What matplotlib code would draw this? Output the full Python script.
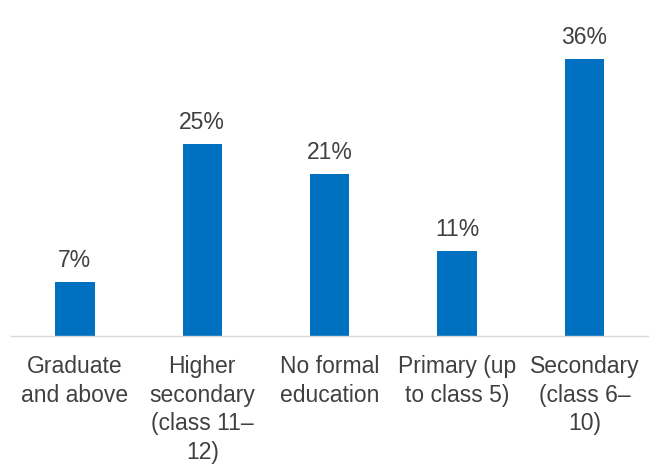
import matplotlib
matplotlib.use("Agg")
import matplotlib.pyplot as plt

# Datos del gráfico
categorias = ["Graduate\nand above", "Higher\nsecondary\n(class 11–\n12)", "No formal\neducation",
              "Primary (up\nto class 5)", "Secondary\n(class 6–\n10)"]
valores = [7, 25, 21, 11, 36]
etiquetas = ["7%", "25%", "21%", "11%", "36%"]

plt.rcParams['font.family'] = ['Liberation Sans', 'DejaVu Sans']

fig = plt.figure(figsize=(6.6, 4.66), dpi=100)
ax = fig.add_axes([0.017, 0.279, 0.965, 0.68])

x = range(len(categorias))
barras = ax.bar(x, valores, width=0.31, color="#0070C0")

# Etiquetas de porcentaje encima de cada barra
for xi, v, txt in zip(x, valores, etiquetas):
    ax.text(xi, v + 1.3, txt, ha="center", va="bottom", fontsize=16.5, color="#404040")

ax.set_xlim(-0.5, len(categorias) - 0.5)
ax.set_ylim(0, 41.2)
ax.set_xticks(list(x))
ax.set_xticklabels(categorias, fontsize=16.5, color="#404040", linespacing=1.3)
ax.tick_params(axis="x", length=0, pad=14)
ax.set_yticks([])

for lado in ["top", "right", "left"]:
    ax.spines[lado].set_visible(False)
ax.spines["bottom"].set_color("#D9D9D9")
ax.spines["bottom"].set_linewidth(1)

fig.savefig("out.png", dpi=100)
